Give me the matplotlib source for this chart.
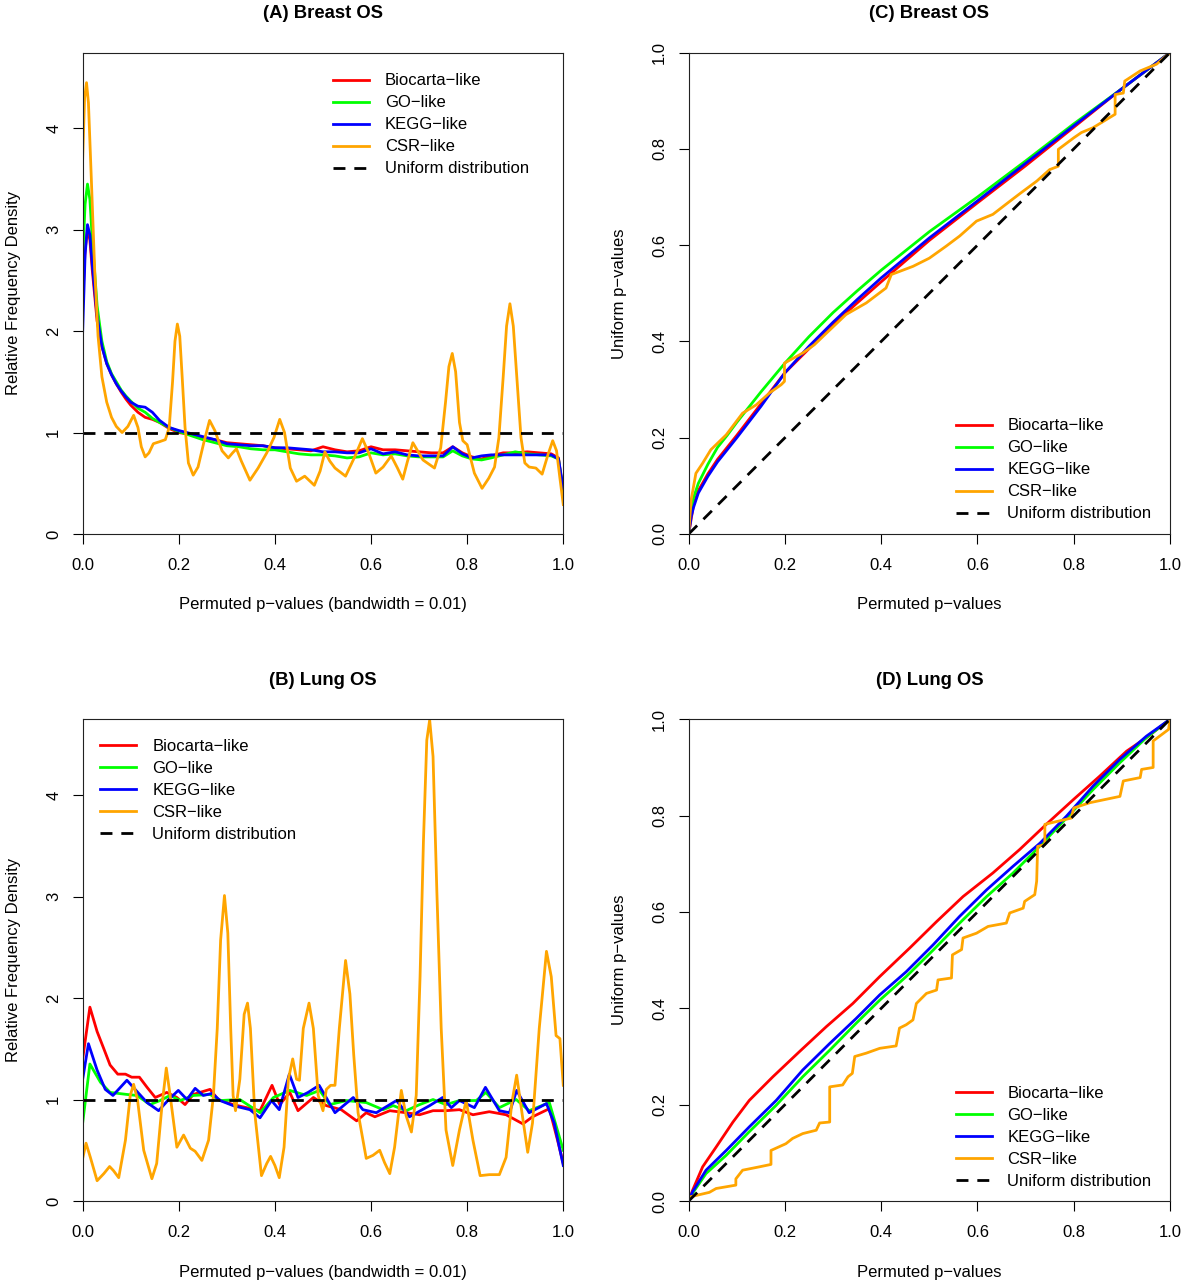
import matplotlib
matplotlib.use("Agg")
import matplotlib.pyplot as plt

plt.rcParams["font.family"] = ["Liberation Sans", "DejaVu Sans"]
plt.rcParams["font.size"] = 12

series_names = ["Biocarta−like", "GO−like", "KEGG−like", "CSR−like"]
uniform_name = "Uniform distribution"
series_colors = ["#FF0000", "#00FF00", "#0000FF", "#FFA500"]

# ---- (A) Breast OS density ----
a_grid = [0, 0.005, 0.01, 0.015, 0.02, 0.03, 0.04, 0.05, 0.06, 0.07, 0.08, 0.09, 0.1,
          0.115, 0.13, 0.145, 0.16, 0.18, 0.2, 0.225, 0.25, 0.275, 0.3, 0.325, 0.35,
          0.375, 0.4, 0.425, 0.45, 0.475, 0.5, 0.525, 0.55, 0.575, 0.6, 0.625, 0.65,
          0.675, 0.7, 0.725, 0.75, 0.77, 0.79, 0.81, 0.83, 0.85, 0.875, 0.9, 0.925,
          0.95, 0.975, 0.99, 1.0]
a_biocarta = [2.3, 2.8, 3.0, 2.9, 2.6, 2.1, 1.85, 1.68, 1.57, 1.48, 1.4, 1.33, 1.27,
              1.2, 1.15, 1.13, 1.1, 1.04, 1.0, 0.98, 0.95, 0.93, 0.90, 0.89, 0.88,
              0.87, 0.85, 0.84, 0.83, 0.82, 0.86, 0.83, 0.81, 0.82, 0.86, 0.83, 0.83,
              0.82, 0.81, 0.80, 0.80, 0.86, 0.80, 0.76, 0.74, 0.77, 0.80, 0.80, 0.81,
              0.80, 0.79, 0.75, 0.40]
a_go = [2.7, 3.25, 3.45, 3.3, 2.9, 2.25, 1.9, 1.7, 1.58, 1.5, 1.42, 1.36, 1.31,
        1.24, 1.2, 1.14, 1.1, 1.05, 1.01, 0.97, 0.93, 0.90, 0.87, 0.86, 0.84,
        0.83, 0.83, 0.81, 0.79, 0.78, 0.78, 0.77, 0.75, 0.76, 0.80, 0.78, 0.79,
        0.77, 0.76, 0.76, 0.76, 0.82, 0.77, 0.74, 0.73, 0.75, 0.78, 0.81, 0.79,
        0.78, 0.77, 0.74, 0.40]
a_kegg = [2.0, 2.75, 3.05, 2.95, 2.65, 2.15, 1.85, 1.68, 1.57, 1.48, 1.41, 1.35, 1.3,
          1.26, 1.25, 1.2, 1.12, 1.05, 1.02, 0.99, 0.96, 0.93, 0.89, 0.88, 0.87,
          0.87, 0.85, 0.85, 0.84, 0.83, 0.81, 0.81, 0.80, 0.80, 0.84, 0.79, 0.81,
          0.78, 0.77, 0.77, 0.77, 0.86, 0.79, 0.75, 0.77, 0.78, 0.78, 0.78, 0.78,
          0.78, 0.78, 0.74, 0.45]
a_csr_x = [0.000, 0.004, 0.008, 0.012, 0.018, 0.025, 0.032, 0.040, 0.050, 0.060, 0.070,
           0.082, 0.094, 0.106, 0.115, 0.122, 0.130, 0.138, 0.147, 0.160, 0.172, 0.180,
           0.187, 0.192, 0.197, 0.202, 0.207, 0.213, 0.220, 0.230, 0.240, 0.252, 0.264,
           0.275, 0.290, 0.303, 0.312, 0.320, 0.330, 0.348, 0.365, 0.383, 0.398, 0.410,
           0.420, 0.432, 0.445, 0.462, 0.482, 0.494, 0.504, 0.514, 0.525, 0.547, 0.565,
           0.582, 0.595, 0.610, 0.625, 0.642, 0.655, 0.666, 0.676, 0.687, 0.708, 0.732,
           0.745, 0.755, 0.762, 0.769, 0.776, 0.784, 0.791, 0.800, 0.815, 0.831, 0.845,
           0.857, 0.866, 0.875, 0.882, 0.889, 0.896, 0.904, 0.912, 0.920, 0.929, 0.943,
           0.956, 0.968, 0.978, 0.986, 0.993, 1.000]
a_csr_y = [3.70, 4.30, 4.45, 4.25, 3.50, 2.60, 1.95, 1.55, 1.30, 1.15, 1.06,
           1.00, 1.06, 1.17, 1.05, 0.86, 0.76, 0.80, 0.89, 0.91, 0.93, 1.05,
           1.50, 1.90, 2.07, 1.95, 1.55, 1.05, 0.70, 0.58, 0.66, 0.90, 1.12,
           1.02, 0.82, 0.75, 0.80, 0.84, 0.72, 0.53, 0.65, 0.80, 0.95, 1.13,
           1.00, 0.65, 0.52, 0.57, 0.48, 0.62, 0.81, 0.72, 0.65, 0.57, 0.75,
           0.94, 0.80, 0.60, 0.66, 0.77, 0.65, 0.54, 0.72, 0.90, 0.73, 0.65,
           0.85, 1.30, 1.65, 1.78, 1.60, 1.10, 0.92, 0.88, 0.60, 0.45, 0.55,
           0.66, 0.95, 1.55, 2.05, 2.27, 2.05, 1.50, 0.95, 0.70, 0.66, 0.65,
           0.59, 0.78, 0.92, 0.82, 0.55, 0.29]

# ---- (B) Lung OS density ----
b_biocarta_x = [0, 0.015, 0.030, 0.044, 0.057, 0.073, 0.089, 0.102, 0.118, 0.134, 0.151,
                0.175, 0.196, 0.213, 0.230, 0.265, 0.282, 0.313, 0.341, 0.369, 0.394,
                0.410, 0.431, 0.448, 0.480, 0.507, 0.538, 0.570, 0.590, 0.608, 0.639,
                0.673, 0.701, 0.729, 0.756, 0.784, 0.812, 0.846, 0.881, 0.916, 0.936,
                0.971, 0.988, 1.0]
b_biocarta_y = [1.40, 1.91, 1.67, 1.50, 1.34, 1.25, 1.25, 1.22, 1.22, 1.12, 1.02,
                1.07, 1.02, 0.95, 1.05, 1.10, 1.00, 0.95, 0.92, 0.89, 1.14,
                0.95, 1.07, 0.89, 1.02, 0.94, 0.90, 0.79, 0.87, 0.83, 0.89,
                0.87, 0.85, 0.89, 0.89, 0.90, 0.85, 0.88, 0.85, 0.76, 0.83,
                0.91, 0.60, 0.37]
b_go_x = [0, 0.015, 0.037, 0.057, 0.092, 0.113, 0.140, 0.161, 0.182, 0.203, 0.230,
          0.265, 0.286, 0.327, 0.369, 0.397, 0.431, 0.466, 0.493, 0.514, 0.549,
          0.590, 0.625, 0.646, 0.673, 0.701, 0.729, 0.756, 0.784, 0.819, 0.839,
          0.867, 0.902, 0.929, 0.971, 1.0]
b_go_y = [0.77, 1.35, 1.17, 1.07, 1.05, 1.04, 0.95, 0.99, 1.04, 0.99, 1.04,
          1.05, 0.99, 1.00, 0.87, 1.02, 1.09, 1.04, 1.09, 0.95, 0.99,
          0.97, 0.90, 0.94, 0.89, 0.95, 1.00, 0.95, 0.99, 0.99, 1.07,
          0.92, 1.00, 0.89, 0.97, 0.50]
b_kegg_x = [0, 0.012, 0.030, 0.047, 0.063, 0.092, 0.109, 0.134, 0.158, 0.179, 0.199,
            0.217, 0.234, 0.251, 0.269, 0.286, 0.313, 0.348, 0.369, 0.393, 0.409,
            0.430, 0.448, 0.469, 0.492, 0.525, 0.563, 0.583, 0.611, 0.653, 0.680,
            0.722, 0.749, 0.767, 0.784, 0.815, 0.838, 0.867, 0.888, 0.903, 0.929,
            0.965, 0.981, 1.0]
b_kegg_y = [1.20, 1.55, 1.29, 1.10, 1.04, 1.19, 1.10, 0.97, 0.89, 1.00, 1.09,
            1.00, 1.11, 1.04, 1.06, 0.99, 0.94, 0.90, 0.82, 0.99, 0.90,
            1.25, 1.02, 1.07, 1.14, 0.87, 1.02, 0.90, 0.87, 0.99, 0.83,
            0.94, 1.02, 0.92, 0.99, 0.92, 1.12, 0.89, 0.87, 1.09, 0.87,
            0.96, 0.77, 0.35]
b_csr_x = [0, 0.007, 0.016, 0.030, 0.044, 0.056, 0.064, 0.075, 0.089, 0.099, 0.106,
           0.114, 0.127, 0.144, 0.154, 0.165, 0.174, 0.182, 0.196, 0.210, 0.224,
           0.234, 0.248, 0.262, 0.272, 0.280, 0.287, 0.295, 0.302, 0.308, 0.313,
           0.318, 0.327, 0.336, 0.343, 0.349, 0.358, 0.372, 0.383, 0.391, 0.400,
           0.409, 0.419, 0.428, 0.437, 0.445, 0.451, 0.459, 0.471, 0.480, 0.490,
           0.500, 0.507, 0.516, 0.525, 0.534, 0.547, 0.556, 0.564, 0.573, 0.590,
           0.604, 0.618, 0.628, 0.639, 0.649, 0.663, 0.673, 0.684, 0.694, 0.702,
           0.709, 0.716, 0.722, 0.729, 0.737, 0.746, 0.756, 0.770, 0.784, 0.798,
           0.812, 0.827, 0.846, 0.867, 0.881, 0.893, 0.903, 0.914, 0.926, 0.936,
           0.950, 0.965, 0.975, 0.985, 0.993, 1.0]
b_csr_y = [0.42, 0.57, 0.43, 0.20, 0.27, 0.34, 0.30, 0.23, 0.60, 1.04, 1.15,
           1.00, 0.50, 0.22, 0.37, 0.94, 1.31, 1.04, 0.53, 0.65, 0.52,
           0.49, 0.40, 0.60, 1.04, 1.70, 2.57, 3.01, 2.64, 1.70, 1.04,
           0.89, 1.20, 1.84, 1.95, 1.70, 0.87, 0.25, 0.37, 0.44, 0.35,
           0.23, 0.53, 1.20, 1.40, 1.20, 1.19, 1.70, 1.95, 1.70, 1.04,
           0.89, 1.10, 1.14, 1.14, 1.70, 2.37, 2.04, 1.44, 0.87, 0.42,
           0.45, 0.50, 0.38, 0.27, 0.53, 1.09, 0.84, 0.68, 1.04, 2.21,
           3.54, 4.54, 4.74, 4.38, 3.04, 1.70, 0.70, 0.35, 0.70, 0.99,
           0.60, 0.25, 0.26, 0.26, 0.43, 0.97, 1.24, 0.87, 0.48, 0.77,
           1.70, 2.46, 2.21, 1.63, 1.60, 1.14]

density_ylim = 4.746
density_yticks = [0, 1, 2, 3, 4]
uniform_density_x = [0, 1]
uniform_density_y = [1, 1]

# ---- (C) Breast OS permuted vs uniform p-values ----
c_biocarta_x = [0, 0.01, 0.02, 0.04, 0.06, 0.08, 0.1, 0.15, 0.2, 0.25, 0.3, 0.35, 0.4,
                0.5, 0.6, 0.7, 0.8, 0.9, 1.0]
c_biocarta_y = [0, 0.06, 0.09, 0.125, 0.155, 0.18, 0.205, 0.27, 0.335, 0.385, 0.435,
                0.48, 0.524, 0.61, 0.688, 0.765, 0.845, 0.925, 1.0]
c_go_x = [0, 0.005, 0.01, 0.02, 0.04, 0.06, 0.08, 0.1, 0.15, 0.2, 0.25, 0.3, 0.35, 0.4,
          0.5, 0.6, 0.7, 0.8, 0.9, 1.0]
c_go_y = [0, 0.05, 0.075, 0.105, 0.145, 0.18, 0.205, 0.232, 0.295, 0.355, 0.41, 0.46,
          0.505, 0.548, 0.628, 0.70, 0.775, 0.852, 0.925, 1.0]
c_kegg_x = [0, 0.005, 0.01, 0.02, 0.04, 0.06, 0.08, 0.1, 0.15, 0.2, 0.25, 0.3, 0.35, 0.4,
            0.5, 0.6, 0.7, 0.8, 0.9, 1.0]
c_kegg_y = [0, 0.035, 0.055, 0.085, 0.12, 0.15, 0.175, 0.2, 0.265, 0.335, 0.39, 0.44,
            0.487, 0.532, 0.615, 0.692, 0.77, 0.848, 0.925, 1.0]
c_csr_x = [0, 0.005, 0.015, 0.029, 0.046, 0.078, 0.112, 0.14, 0.168, 0.192, 0.199, 0.199,
           0.237, 0.261, 0.286, 0.327, 0.369, 0.41, 0.421, 0.466, 0.5, 0.535, 0.563,
           0.598, 0.632, 0.667, 0.688, 0.723, 0.75, 0.768, 0.768, 0.8, 0.816, 0.84,
           0.886, 0.886, 0.903, 0.906, 0.938, 0.972, 1.0]
c_csr_y = [0, 0.07, 0.126, 0.147, 0.175, 0.206, 0.251, 0.268, 0.293, 0.31, 0.317, 0.355,
           0.376, 0.393, 0.417, 0.456, 0.48, 0.511, 0.539, 0.556, 0.573, 0.598, 0.619,
           0.65, 0.664, 0.691, 0.707, 0.733, 0.757, 0.764, 0.799, 0.823, 0.834, 0.844,
           0.872, 0.913, 0.916, 0.941, 0.962, 0.976, 1.0]

# ---- (D) Lung OS permuted vs uniform p-values ----
d_biocarta_x = [0, 0.008, 0.029, 0.057, 0.092, 0.126, 0.175, 0.23, 0.286, 0.341, 0.397,
                0.459, 0.515, 0.57, 0.632, 0.688, 0.743, 0.8, 0.854, 0.91, 0.951, 1.0]
d_biocarta_y = [0, 0.022, 0.071, 0.112, 0.164, 0.209, 0.258, 0.31, 0.362, 0.41, 0.466,
                0.525, 0.58, 0.632, 0.681, 0.73, 0.782, 0.834, 0.882, 0.934, 0.962, 1.0]
d_go_x = [0, 0.008, 0.036, 0.078, 0.126, 0.182, 0.237, 0.293, 0.348, 0.397, 0.452,
          0.508, 0.563, 0.619, 0.674, 0.723, 0.785, 0.84, 0.896, 0.951, 1.0]
d_go_y = [0, 0.016, 0.057, 0.095, 0.144, 0.199, 0.258, 0.313, 0.369, 0.417, 0.466,
          0.521, 0.577, 0.632, 0.681, 0.73, 0.795, 0.854, 0.91, 0.962, 1.0]
d_kegg_x = [0, 0.008, 0.036, 0.078, 0.126, 0.182, 0.237, 0.293, 0.348, 0.397, 0.452,
            0.508, 0.563, 0.619, 0.674, 0.73, 0.785, 0.84, 0.896, 0.951, 1.0]
d_kegg_y = [0, 0.019, 0.064, 0.105, 0.154, 0.209, 0.272, 0.327, 0.379, 0.428, 0.476,
            0.532, 0.591, 0.646, 0.695, 0.743, 0.799, 0.861, 0.917, 0.965, 1.0]
d_csr_x = [0, 0.043, 0.057, 0.098, 0.098, 0.112, 0.147, 0.171, 0.171, 0.202, 0.216,
           0.237, 0.265, 0.272, 0.293, 0.293, 0.32, 0.331, 0.34, 0.345, 0.369, 0.397,
           0.431, 0.438, 0.452, 0.466, 0.473, 0.494, 0.515, 0.518, 0.546, 0.548, 0.567,
           0.57, 0.598, 0.622, 0.66, 0.667, 0.695, 0.698, 0.719, 0.723, 0.725, 0.74,
           0.74, 0.795, 0.8, 0.834, 0.896, 0.903, 0.938, 0.941, 0.965, 0.965, 0.997, 1.0]
d_csr_y = [0.008, 0.018, 0.026, 0.033, 0.046, 0.064, 0.071, 0.076, 0.105, 0.119, 0.13,
           0.14, 0.147, 0.162, 0.164, 0.237, 0.241, 0.258, 0.265, 0.3, 0.307, 0.317,
           0.322, 0.359, 0.366, 0.376, 0.41, 0.431, 0.438, 0.459, 0.463, 0.511, 0.522,
           0.546, 0.556, 0.57, 0.577, 0.598, 0.608, 0.622, 0.636, 0.664, 0.736, 0.74,
           0.782, 0.795, 0.816, 0.827, 0.84, 0.872, 0.879, 0.896, 0.9, 0.955, 0.979, 1.0]

qq_ticks = [0.0, 0.2, 0.4, 0.6, 0.8, 1.0]
uniform_qq = [0, 1]

LW = 2.0
DASH = (4.3, 3.2)
FS = 12


def style_axes(ax, yticks, ylim, ytick_fmt):
    ax.set_xlim(0, 1)
    ax.set_ylim(0, ylim)
    ax.set_xticks(qq_ticks)
    ax.set_xticklabels([f"{t:.1f}" for t in qq_ticks])
    ax.set_yticks(yticks)
    ax.set_yticklabels([ytick_fmt(t) for t in yticks])
    ax.tick_params(direction="out", length=7.5, width=0.8, pad=9.5, labelsize=FS)
    ax.tick_params(axis="y", labelrotation=90, pad=8)
    for lab in ax.get_yticklabels():
        lab.set_va("center")
    for sp in ax.spines.values():
        sp.set_linewidth(0.8)
        sp.set_color("#222222")


def add_legend(ax, handles, anchor, loc):
    ax.legend(handles, series_names + [uniform_name], loc=loc, bbox_to_anchor=anchor,
              frameon=False, fontsize=FS, handlelength=2.15, handletextpad=0.95,
              labelspacing=0.42, borderpad=0, borderaxespad=0)


def draw_density(ax, curves, title, legend_anchor):
    handles = []
    for (x, y), c in zip(curves, series_colors):
        ln, = ax.plot(x, y, color=c, lw=LW, solid_joinstyle="round")
        handles.append(ln)
    ln, = ax.plot(uniform_density_x, uniform_density_y, color="black", lw=LW,
                  linestyle=(0, DASH))
    handles.append(ln)
    style_axes(ax, density_yticks, density_ylim, lambda t: f"{t:d}")
    ax.set_title(title, fontsize=13.3, fontweight="bold", pad=25)
    ax.set_xlabel("Permuted p−values (bandwidth = 0.01)", fontsize=FS, va="center")
    ax.xaxis.set_label_coords(0.5, -0.1475)
    ax.set_ylabel("Relative Frequency Density", fontsize=FS, va="center")
    ax.yaxis.set_label_coords(-0.143, 0.5)
    add_legend(ax, handles, legend_anchor, "upper left")


def draw_qq(ax, curves, title):
    handles = []
    for (x, y), c in zip(curves, series_colors):
        ln, = ax.plot(x, y, color=c, lw=LW, solid_joinstyle="round")
        handles.append(ln)
    ln, = ax.plot(uniform_qq, uniform_qq, color="black", lw=LW, linestyle=(0, DASH))
    handles.append(ln)
    style_axes(ax, qq_ticks, 1.0, lambda t: f"{t:.1f}")
    ax.set_title(title, fontsize=13.3, fontweight="bold", pad=25)
    ax.set_xlabel("Permuted p−values", fontsize=FS, va="center")
    ax.xaxis.set_label_coords(0.5, -0.1475)
    ax.set_ylabel("Uniform p−values", fontsize=FS, va="center")
    ax.yaxis.set_label_coords(-0.1427, 0.5)
    add_legend(ax, handles, (0.555, 0.026), "lower left")


fig = plt.figure(figsize=(12, 12.87), dpi=100)
ax_a = fig.add_axes([0.0689, 0.5851, 0.4005, 0.3740])
ax_b = fig.add_axes([0.0689, 0.0668, 0.4005, 0.3743])
ax_c = fig.add_axes([0.5739, 0.5851, 0.4011, 0.3740])
ax_d = fig.add_axes([0.5739, 0.0668, 0.4011, 0.3743])

draw_density(ax_a, [(a_grid, a_biocarta), (a_grid, a_go), (a_grid, a_kegg),
                    (a_csr_x, a_csr_y)], "(A) Breast OS", (0.521, 0.957))
draw_density(ax_b, [(b_biocarta_x, b_biocarta_y), (b_go_x, b_go_y),
                    (b_kegg_x, b_kegg_y), (b_csr_x, b_csr_y)], "(B) Lung OS",
             (0.037, 0.959))
draw_qq(ax_c, [(c_biocarta_x, c_biocarta_y), (c_go_x, c_go_y), (c_kegg_x, c_kegg_y),
               (c_csr_x, c_csr_y)], "(C) Breast OS")
draw_qq(ax_d, [(d_biocarta_x, d_biocarta_y), (d_go_x, d_go_y), (d_kegg_x, d_kegg_y),
               (d_csr_x, d_csr_y)], "(D) Lung OS")

fig.savefig("out.png", dpi=100)
